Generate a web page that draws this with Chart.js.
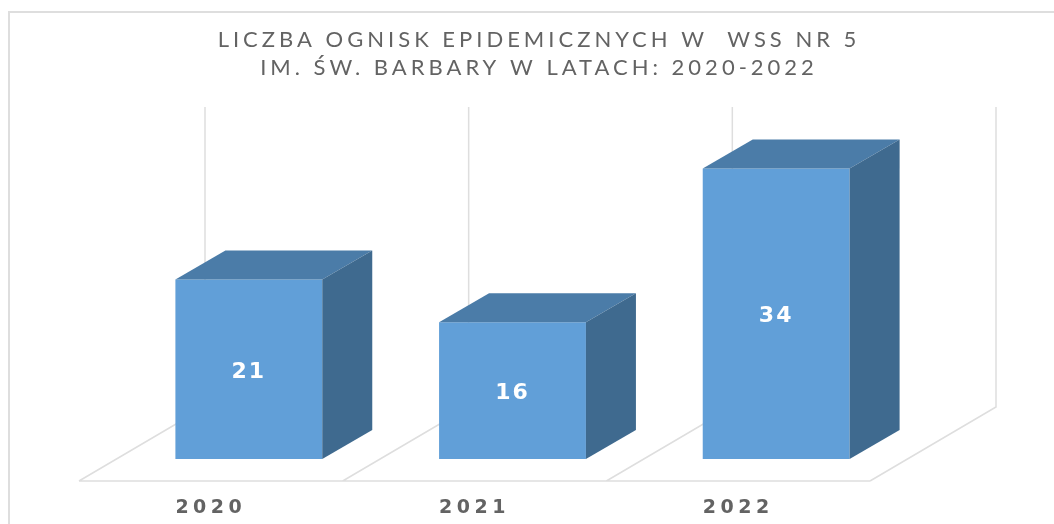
<!DOCTYPE html>
<html>
<head>
<meta charset="utf-8">
<style>
  html, body { margin: 0; padding: 0; background: #fff; }
  canvas { display: block; }
</style>
<script src="https://cdn.jsdelivr.net/npm/chart.js@4/dist/chart.umd.min.js"></script>
</head>
<body>
<canvas id="outbreakChart" width="1054" height="524"></canvas>
<script>
const years = ['2020', '2021', '2022'];
const outbreaks = [21, 16, 34];
const titleLines = ['LICZBA OGNISK EPIDEMICZNYCH W  WSS NR 5', 'IM. ŚW. BARBARY W LATACH: 2020-2022'];
const axisMax = 35;

const frontColor = '#619FD8';
const topColor = '#4B7CA8';
const sideColor = '#3F6A8F';
const gridColor = '#DEDEDE';

// fake 3d depth
const barDepth = { x: 50, y: -29 };
const floorFront = { x: -38, y: 22 };
const floorBack = { x: 88, y: -52 };

const fake3d = {
    id: 'fake3d',
    beforeDraw(chart) {
        const ctx = chart.ctx;
        ctx.letterSpacing = '4px'; // title
        // frame of the original screenshot
        ctx.save();
        ctx.strokeStyle = '#DEDEDE';
        ctx.lineWidth = 2;
        ctx.beginPath();
        ctx.moveTo(9, 524);
        ctx.lineTo(9, 12);
        ctx.lineTo(1054, 12);
        ctx.stroke();
        ctx.restore();
    },
    beforeDatasetsDraw(chart) {
        const ctx = chart.ctx;
        const xs = chart.scales.x;
        const ys = chart.scales.y;
        const step = xs.getPixelForValue(1) - xs.getPixelForValue(0);
        const base = ys.getPixelForValue(0);
        const top = ys.getPixelForValue(axisMax) - 1;

        ctx.save();
        ctx.strokeStyle = gridColor;
        ctx.lineWidth = 1.5;
        ctx.beginPath();
        for (let i = 0; i <= years.length; i++) {
            const x = xs.getPixelForValue(i) - step / 2;
            ctx.moveTo(x + floorFront.x, base + floorFront.y);
            ctx.lineTo(x + floorBack.x, base + floorBack.y);
            ctx.lineTo(x + floorBack.x, top + floorBack.y);
        }
        ctx.moveTo(xs.left + floorFront.x, base + floorFront.y);
        ctx.lineTo(xs.right + floorFront.x, base + floorFront.y);
        ctx.stroke();
        ctx.restore();
    },
    afterDatasetsDraw(chart) {
        const ctx = chart.ctx;
        const bars = chart.getDatasetMeta(0).data;
        ctx.save();
        bars.forEach((bar, i) => {
            const l = bar.x - bar.width / 2;
            const r = bar.x + bar.width / 2;

            ctx.fillStyle = topColor;
            ctx.beginPath();
            ctx.moveTo(l, bar.y);
            ctx.lineTo(l + barDepth.x, bar.y + barDepth.y);
            ctx.lineTo(r + barDepth.x, bar.y + barDepth.y);
            ctx.lineTo(r, bar.y);
            ctx.closePath();
            ctx.fill();

            ctx.fillStyle = sideColor;
            ctx.beginPath();
            ctx.moveTo(r, bar.y);
            ctx.lineTo(r + barDepth.x, bar.y + barDepth.y);
            ctx.lineTo(r + barDepth.x, bar.base + barDepth.y);
            ctx.lineTo(r, bar.base);
            ctx.closePath();
            ctx.fill();

            ctx.fillStyle = '#FFFFFF';
            ctx.font = 'bold 22px "DejaVu Sans"';
            ctx.textAlign = 'center';
            ctx.textBaseline = 'middle';
            ctx.letterSpacing = '2px';
            ctx.fillText(outbreaks[i], bar.x, (bar.y + bar.base) / 2 + 3);
        });
        ctx.restore();
        ctx.letterSpacing = '4.5px'; // x ticks draw after the datasets (z: 1)
    }
};

new Chart(document.getElementById('outbreakChart').getContext('2d'), {
    type: 'bar',
    data: {
        labels: years,
        datasets: [{
            label: 'Liczba ognisk',
            data: outbreaks,
            backgroundColor: frontColor,
            borderWidth: 0,
            barPercentage: 0.557,
            categoryPercentage: 1
        }]
    },
    options: {
        responsive: false,
        animation: false,
        layout: { padding: { top: 26, left: 24, right: 0, bottom: 0 } },
        plugins: {
            legend: { display: false },
            tooltip: { enabled: false },
            title: {
                display: true,
                text: titleLines,
                color: '#636363',
                font: { family: 'Lato', size: 22, weight: 'normal', lineHeight: 1.27 },
                padding: { top: 0, bottom: 78 }
            }
        },
        scales: {
            x: {
                grid: { display: false },
                border: { display: false },
                ticks: {
                    z: 1,
                    color: '#636363',
                    font: { family: 'DejaVu Sans', size: 19, weight: 'bold' },
                    labelOffset: -38,
                    padding: 30,
                    maxRotation: 0
                },
                afterFit(scale) { scale.height = 65; }
            },
            y: {
                min: 0,
                max: axisMax,
                ticks: { display: false },
                grid: { display: false },
                border: { display: false },
                afterFit(scale) { scale.width = 93; }
            },
            spacer: {
                position: 'right',
                ticks: { display: false },
                grid: { display: false },
                border: { display: false },
                afterFit(scale) { scale.width = 146; }
            }
        }
    },
    plugins: [fake3d]
});
</script>
</body>
</html>
